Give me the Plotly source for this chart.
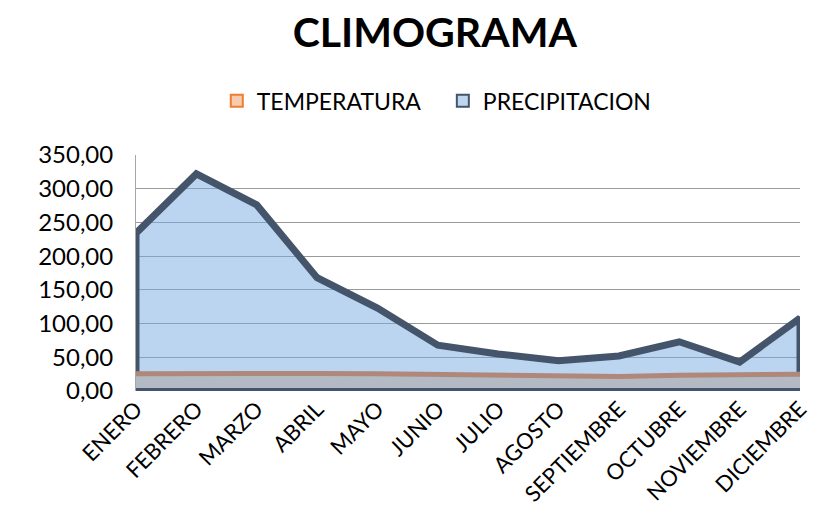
import plotly.graph_objects as go

MONTHS = ["ENERO", "FEBRERO", "MARZO", "ABRIL", "MAYO", "JUNIO", "JULIO",
          "AGOSTO", "SEPTIEMBRE", "OCTUBRE", "NOVIEMBRE", "DICIEMBRE"]
PRECIPITACION = [234, 322, 276, 168, 123, 68, 55, 45, 52, 73, 43, 108]
TEMPERATURA = [25.5, 26, 26, 26, 25.5, 24.5, 24, 24, 21.5, 23.5, 23.5, 25]
Y_TICKS = [0, 50, 100, 150, 200, 250, 300, 350]

FONT = "Lato, Calibri, Carlito, sans-serif"

fig = go.Figure()

# Precipitation area as closed polygon (outline all around)
px = [MONTHS[0]] + MONTHS + [MONTHS[-1], MONTHS[0]]
py = [0] + PRECIPITACION + [0, 0]
fig.add_trace(go.Scatter(
    x=px, y=py, mode="lines", fill="toself",
    fillcolor="rgba(120,170,225,0.5)",
    line=dict(color="#44546A", width=7),
    showlegend=False, hoverinfo="skip"))

# Temperature area
tx = [MONTHS[0]] + MONTHS + [MONTHS[-1]]
ty = [0] + TEMPERATURA + [0]
fig.add_trace(go.Scatter(
    x=tx, y=ty, mode="lines", fill="toself", fillcolor="#B4BAC3",
    line=dict(color="rgba(0,0,0,0)", width=0),
    showlegend=False, hoverinfo="skip"))
fig.add_trace(go.Scatter(
    x=MONTHS, y=TEMPERATURA, mode="lines",
    line=dict(color="#B0887A", width=5),
    showlegend=False, hoverinfo="skip"))

# Bottom outline of precipitation area (drawn on top)
fig.add_trace(go.Scatter(
    x=[MONTHS[0], MONTHS[-1]], y=[0, 0], mode="lines",
    line=dict(color="#44546A", width=6),
    showlegend=False, hoverinfo="skip"))

# Legend entries
fig.add_trace(go.Scatter(
    x=[None], y=[None], mode="markers", name="TEMPERATURA   ",
    marker=dict(symbol="square", size=15, color="#F8CBAD",
                line=dict(color="#ED7D31", width=4))))
fig.add_trace(go.Scatter(
    x=[None], y=[None], mode="markers", name="PRECIPITACION",
    marker=dict(symbol="square", size=15, color="#BDD7EE",
                line=dict(color="#44546A", width=4))))

fig.update_layout(
    width=808, height=516,
    margin=dict(l=128, r=16, t=147, b=133, autoexpand=False),
    paper_bgcolor="white", plot_bgcolor="white",
    font=dict(family=FONT, color="black"),
    separators=",.",
    title=dict(text="<b>CLIMOGRAMA</b>", font=dict(size=41, family=FONT),
               xref="paper", x=0.45, xanchor="center",
               yref="container", y=0.953, yanchor="middle"),
    legend=dict(orientation="h", x=0.453, xanchor="center",
                y=1.23, yanchor="middle",
                font=dict(size=23, family=FONT),
                itemsizing="constant", itemwidth=30,
                bgcolor="rgba(0,0,0,0)"),
    xaxis=dict(type="category", categoryorder="array", categoryarray=MONTHS,
               range=[0, len(MONTHS) - 1], tickangle=-45,
               tickfont=dict(size=22, family=FONT),
               showgrid=False, showline=False, ticks="", zeroline=False,
               ticklabelstandoff=0),
    yaxis=dict(range=[0, 350], tickvals=Y_TICKS, tickformat=".2f",
               tickfont=dict(size=24, family=FONT),
               showgrid=True, gridcolor="#9A9A9A", gridwidth=1,
               showline=True, linecolor="#A6A6A6", linewidth=1,
               zeroline=False, ticks="", ticklabelstandoff=17),
)

fig.write_html("out.html")
